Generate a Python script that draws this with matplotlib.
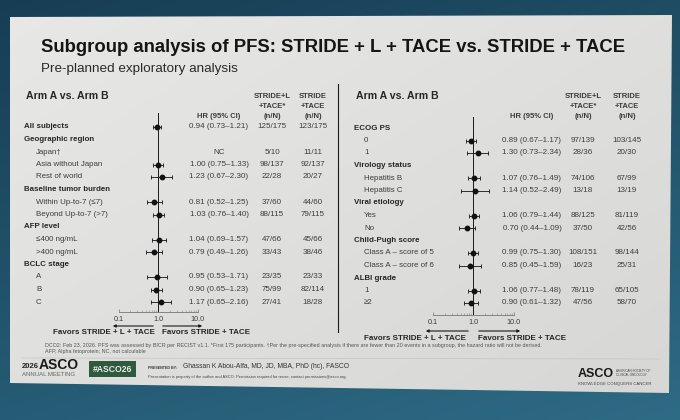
import numpy as np
import matplotlib.pyplot as plt
from matplotlib.patches import Polygon, Rectangle
from matplotlib.ticker import FixedLocator, FixedFormatter, NullFormatter

plt.rcParams['font.family'] = ['Liberation Sans', 'DejaVu Sans']

W, H = 680, 420

# ---- data: left panel ----
left_labels = ["All subjects", "Geographic region", "Japan\u2020", "Asia without Japan", "Rest of world",
               "Baseline tumor burden", "Within Up-to-7 (\u22647)", "Beyond Up-to-7 (>7)",
               "AFP level", "\u2264400 ng/mL", ">400 ng/mL", "BCLC stage", "A", "B", "C"]
left_header = [1, 1, 0, 0, 0, 1, 0, 0, 1, 0, 0, 1, 0, 0, 0]
left_hr = [0.94, np.nan, np.nan, 1.00, 1.23, np.nan, 0.81, 1.03, np.nan, 1.04, 0.79, np.nan, 0.95, 0.90, 1.17]
left_lo = [0.73, np.nan, np.nan, 0.75, 0.67, np.nan, 0.52, 0.76, np.nan, 0.69, 0.49, np.nan, 0.53, 0.65, 0.65]
left_hi = [1.21, np.nan, np.nan, 1.33, 2.30, np.nan, 1.25, 1.40, np.nan, 1.57, 1.26, np.nan, 1.71, 1.23, 2.16]
left_nc = [2]
left_a = ["125/175", "", "5/10", "98/137", "22/28", "", "37/60", "88/115", "", "47/66", "33/43", "",
          "23/35", "75/99", "27/41"]
left_b = ["123/175", "", "11/11", "92/137", "20/27", "", "44/60", "79/115", "", "45/66", "38/46", "",
          "23/33", "82/114", "18/28"]

# ---- data: right panel ----
right_labels = ["ECOG PS", "0", "1", "Virology status", "Hepatitis B", "Hepatitis C", "Viral etiology",
                "Yes", "No", "Child-Pugh score", "Class A \u2013 score of 5", "Class A \u2013 score of 6",
                "ALBI grade", "1", "\u22652"]
right_header = [1, 0, 0, 1, 0, 0, 1, 0, 0, 1, 0, 0, 1, 0, 0]
right_hr = [np.nan, 0.89, 1.30, np.nan, 1.07, 1.14, np.nan, 1.06, 0.70, np.nan, 0.99, 0.85, np.nan, 1.06, 0.90]
right_lo = [np.nan, 0.67, 0.73, np.nan, 0.76, 0.52, np.nan, 0.79, 0.44, np.nan, 0.75, 0.45, np.nan, 0.77, 0.61]
right_hi = [np.nan, 1.17, 2.34, np.nan, 1.49, 2.49, np.nan, 1.44, 1.09, np.nan, 1.30, 1.59, np.nan, 1.48, 1.32]
right_nc = []
right_a = ["", "97/139", "28/36", "", "74/106", "13/18", "", "88/125", "37/50", "", "108/151", "16/23",
           "", "78/119", "47/56"]
right_b = ["", "103/145", "20/30", "", "67/99", "13/19", "", "81/119", "42/56", "", "98/144", "25/31",
           "", "65/105", "58/70"]

tick_vals = [0.1, 1.0, 10.0]
tick_text = ["0.1", "1.0", "10.0"]
minor_vals = [0.2, 0.3, 0.4, 0.5, 0.6, 0.7, 0.8, 0.9, 2, 3, 4, 5, 6, 7, 8, 9]

TXT = "#3c3c3c"
HDR = "#262626"

fig = plt.figure(figsize=(W / 100, H / 100), dpi=100)
bg = fig.add_axes([0, 0, 1, 1])
bg.set_xlim(0, W)
bg.set_ylim(H, 0)
bg.axis('off')

# photo background + slide
yy, xx = np.mgrid[0:H, 0:W] / np.array([H, W])[:, None, None]
outer = np.dstack([0.09 + 0.06 * yy + 0.03 * xx, 0.24 + 0.12 * yy + 0.06 * xx, 0.33 + 0.13 * yy + 0.06 * xx])
bg.imshow(outer, extent=(0, W, H, 0), aspect='auto', zorder=0)
slide = Polygon([(10, 17), (672, 15), (669, 393), (10, 383)], closed=True, fc='none', ec='none')
bg.add_patch(slide)
v = 0.91 - 0.035 * xx - 0.035 * yy
shade = np.dstack([v, v, v - 0.008])
im = bg.imshow(shade, extent=(0, W, H, 0), aspect='auto', zorder=1)
im.set_clip_path(slide)

bg.text(41, 47, "Subgroup analysis of PFS: STRIDE + L + TACE vs. STRIDE + TACE", fontsize=13.3,
        weight='bold', color='#151515', va='center', zorder=3)
bg.text(41, 69, "Pre-planned exploratory analysis", fontsize=9.7, color='#2a2a2a', va='center', zorder=3)

bg.plot([338, 338], [84, 332], color='#1a1a1a', lw=0.8, zorder=3)


def panel(x_lab, x_ind, labels, header, hr, lo, hi, nc, a, b, row0, x_hr, x_a, x_b,
          x_one, decade, ax_x, ax_y, ytop):
    bg.text(x_lab + 2, 96, "Arm A vs. Arm B", fontsize=7.6, weight='bold', color=HDR, va='center', zorder=3)
    bg.text(x_hr, ytop + 20, "HR (95% CI)", fontsize=5.5, weight='bold', color=TXT, ha='center', va='center', zorder=3)
    for col, lines in ((x_a, ["STRIDE+L", "+TACE*", "(n/N)"]), (x_b, ["STRIDE", "+TACE", "(n/N)"])):
        for k, t in enumerate(lines):
            bg.text(col, ytop + k * 10, t, fontsize=5.5, weight='bold', color=TXT, ha='center', va='center', zorder=3)
    for i, lab in enumerate(labels):
        y = row0 + 12.5 * i
        if header[i]:
            bg.text(x_lab, y, lab, fontsize=5.7, weight='bold', color=HDR, va='center', zorder=3)
        else:
            bg.text(x_ind, y, lab, fontsize=5.7, color=TXT, va='center', zorder=3)
        if i in nc:
            bg.text(x_hr, y, "NC", fontsize=5.8, color=TXT, ha='center', va='center', zorder=3)
        elif not np.isnan(hr[i]):
            s = f"{hr[i]:.2f} ({lo[i]:.2f}\u2013{hi[i]:.2f})"
            bg.text(x_hr, y, s, fontsize=5.8, color=TXT, ha='center', va='center', zorder=3)
        bg.text(x_a, y, a[i], fontsize=5.8, color=TXT, ha='center', va='center', zorder=3)
        bg.text(x_b, y, b[i], fontsize=5.8, color=TXT, ha='center', va='center', zorder=3)

    # forest axes, positioned in pixels
    x0, x1 = ax_x
    y0, y1 = ax_y
    ax = fig.add_axes([x0 / W, 1 - y1 / H, (x1 - x0) / W, (y1 - y0) / H], zorder=4)
    ax.patch.set_visible(False)
    ax.set_xscale('log')
    ax.set_xlim(10 ** ((x0 - x_one) / decade), 10 ** ((x1 - x_one) / decade))
    n = len(labels)
    rows = np.arange(n)
    ax.set_ylim((y1 - row0) / 12.5, (y0 - row0) / 12.5)
    ax.axvline(1.0, color='#1a1a1a', lw=0.7)
    hr_a, lo_a, hi_a = np.array(hr), np.array(lo), np.array(hi)
    ok = ~np.isnan(hr_a)
    ax.errorbar(hr_a[ok], rows[ok], xerr=[hr_a[ok] - lo_a[ok], hi_a[ok] - hr_a[ok]], fmt='o', color='#111111',
                ms=3.2, lw=0.6, capsize=1.3, capthick=0.6)
    for s in ('top', 'right', 'left'):
        ax.spines[s].set_visible(False)
    ax.spines['bottom'].set_bounds(0.1, 10)
    ax.spines['bottom'].set_color('#777777')
    ax.spines['bottom'].set_linewidth(0.6)
    ax.set_yticks([])
    ax.xaxis.set_major_locator(FixedLocator(tick_vals))
    ax.xaxis.set_major_formatter(FixedFormatter(tick_text))
    ax.xaxis.set_minor_locator(FixedLocator(minor_vals))
    ax.xaxis.set_minor_formatter(NullFormatter())
    ax.tick_params(axis='x', which='major', direction='in', length=2.5, width=0.5, color='#777777',
                   labelsize=5.2, labelcolor=TXT, pad=3)
    ax.tick_params(axis='x', which='minor', direction='in', length=1.5, width=0.4, color='#888888')
    return ax


panel(24, 36, left_labels, left_header, left_hr, left_lo, left_hi, left_nc, left_a, left_b,
      127, 219, 272, 313, 158, 39.5, (100, 215), (113, 312), 96)
panel(354, 364, right_labels, right_header, right_hr, right_lo, right_hi, right_nc, right_a, right_b,
      128, 532, 583, 627, 473, 40.5, (415, 530), (117, 315), 97)

# favours arrows and text
arrow_kw = dict(arrowstyle='-|>', color='#1a1a1a', lw=0.8, mutation_scale=4)
for (yl, xs, lt, rt) in ((326, (156, 110, 160, 205), (53, 162), 333), (331, (471, 423, 476, 523), (364, 478), 339)):
    bg.annotate('', xy=(xs[1], yl), xytext=(xs[0], yl), arrowprops=arrow_kw, zorder=3)
    bg.annotate('', xy=(xs[3], yl), xytext=(xs[2], yl), arrowprops=arrow_kw, zorder=3)
    bg.text(lt[0], rt, "Favors STRIDE + L + TACE", fontsize=5.8, weight='bold', color=HDR, va='center', zorder=3)
    bg.text(lt[1], rt, "Favors STRIDE + TACE", fontsize=5.8, weight='bold', color=HDR, va='center', zorder=3)

bg.text(45, 346, "DCO2: Feb 23, 2026. PFS was assessed by BICR per RECIST v1.1. *First 175 participants. "
        "\u2020Per the pre-specified analysis if there are fewer than 20 events in a subgroup, the hazard ratio "
        "will not be derived.", fontsize=3.9, color='#555555', va='center', zorder=3)
bg.text(45, 352, "AFP, Alpha fetoprotein; NC, not calculable", fontsize=3.9, color='#555555', va='center', zorder=3)
bg.plot([22, 660], [358, 359], color='#c4c4c4', lw=0.5, zorder=3)

# footer
bg.text(22, 366, "2026", fontsize=5.5, weight='bold', color='#222222', va='center', zorder=3)
bg.text(39, 365, "ASCO", fontsize=10, weight='bold', color='#1a1a1a', va='center', zorder=3)
bg.text(22, 374.5, "ANNUAL MEETING", fontsize=4.3, color='#666666', va='center', zorder=3)
bg.add_patch(Rectangle((89, 361), 47, 16, fc='#2f5a3d', ec='none', zorder=3))
bg.text(112.5, 369, "#ASCO26", fontsize=6.2, weight='bold', color='#e8eee8', ha='center', va='center', zorder=4)
bg.text(148, 368, "PRESENTED BY:", fontsize=2.6, weight='bold', color='#333333', va='center', zorder=3)
bg.text(183, 367, "Ghassan K Abou-Alfa, MD, JD, MBA, PhD (hc), FASCO", fontsize=4.9, color='#333333',
        va='center', zorder=3)
bg.text(148, 377, "Presentation is property of the author and ASCO. Permission required for reuse; contact "
        "permissions@asco.org.", fontsize=2.9, color='#444444', va='center', zorder=3)
bg.text(578, 374, "ASCO", fontsize=9, weight='bold', color='#1a1a1a', va='center', zorder=3)
bg.text(616, 371.5, "AMERICAN SOCIETY OF", fontsize=2.2, color='#444444', va='center', zorder=3)
bg.text(616, 375.5, "CLINICAL ONCOLOGY", fontsize=2.2, color='#444444', va='center', zorder=3)
bg.text(578, 383.5, "KNOWLEDGE CONQUERS CANCER", fontsize=3.1, color='#444444', va='center', zorder=3)

fig.savefig("out.png", dpi=100)
